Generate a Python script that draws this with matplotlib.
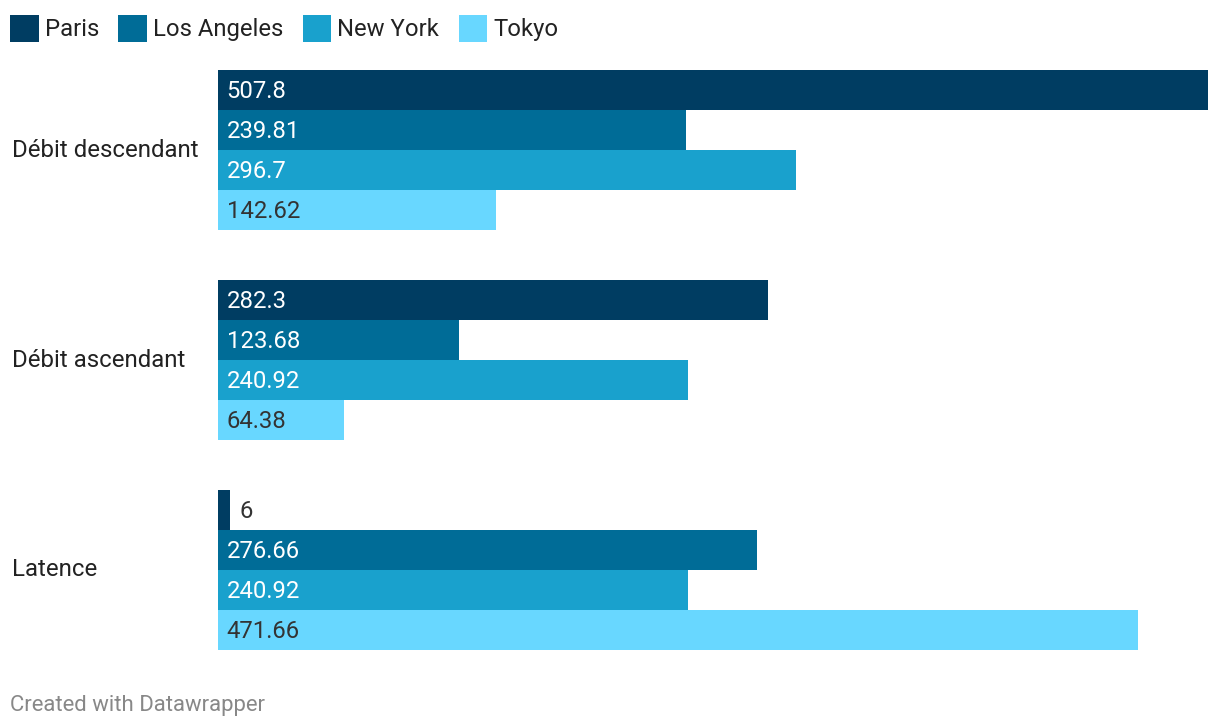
import matplotlib.pyplot as plt
from matplotlib.patches import Patch
from matplotlib.transforms import blended_transform_factory

plt.rcParams['font.family'] = ['Roboto', 'DejaVu Sans']

categories = ['Débit descendant', 'Débit ascendant', 'Latence']
cities = ['Paris', 'Los Angeles', 'New York', 'Tokyo']
paris = [507.8, 282.3, 6]
los_angeles = [239.81, 123.68, 276.66]
new_york = [296.7, 240.92, 240.92]
tokyo = [142.62, 64.38, 471.66]
labels = [
    ['507.8', '282.3', '6'],
    ['239.81', '123.68', '276.66'],
    ['296.7', '240.92', '240.92'],
    ['142.62', '64.38', '471.66'],
]

colors = ['#003d62', '#006c97', '#19a1cd', '#68d7ff']
text_colors = ['white', 'white', 'white', '#333333']
series = [paris, los_angeles, new_york, tokyo]

W, H = 1220, 726
fig = plt.figure(figsize=(W / 100, H / 100), dpi=100)
ax = fig.add_axes([218 / W, 1 - 650 / H, 990 / W, 580 / H])

group_step = 5.25
for i, vals in enumerate(series):
    ys = [g * group_step + i + 0.5 for g in range(len(categories))]
    ax.barh(ys, vals, height=1.0, color=colors[i], linewidth=0)
    for g, (y, v) in enumerate(zip(ys, vals)):
        inside = v > 30
        ax.annotate(labels[i][g], xy=(0 if inside else v, y),
                    xytext=(6.3 if inside else 7.2, -1.4), textcoords='offset points',
                    ha='left', va='center', fontsize=17.2,
                    color=text_colors[i] if inside else '#333333')

ax.set_xlim(0, max(paris))
ax.set_ylim(3 * 4 + 2 * 1.25, 0)
ax.axis('off')

trans = blended_transform_factory(fig.transFigure, ax.transData)
for g, cat in enumerate(categories):
    ax.text(12 / W, g * group_step + 2, cat, transform=trans,
            ha='left', va='center', fontsize=17.3, color='#222222')

handles = [Patch(facecolor=c, edgecolor='none') for c in colors]
fig.legend(handles, cities, loc='upper left', bbox_to_anchor=(10 / W, 1 - 15 / H),
           ncol=4, frameon=False, fontsize=17.2, handlelength=1.2,
           handleheight=1.35, handletextpad=0.25, columnspacing=0.81,
           borderpad=0, borderaxespad=0, labelcolor='#222222')

fig.text(10 / W, 1 - 705 / H, 'Created with Datawrapper', ha='left', va='center',
         fontsize=15.9, color='#888888')

fig.savefig('out.png', dpi=100)
